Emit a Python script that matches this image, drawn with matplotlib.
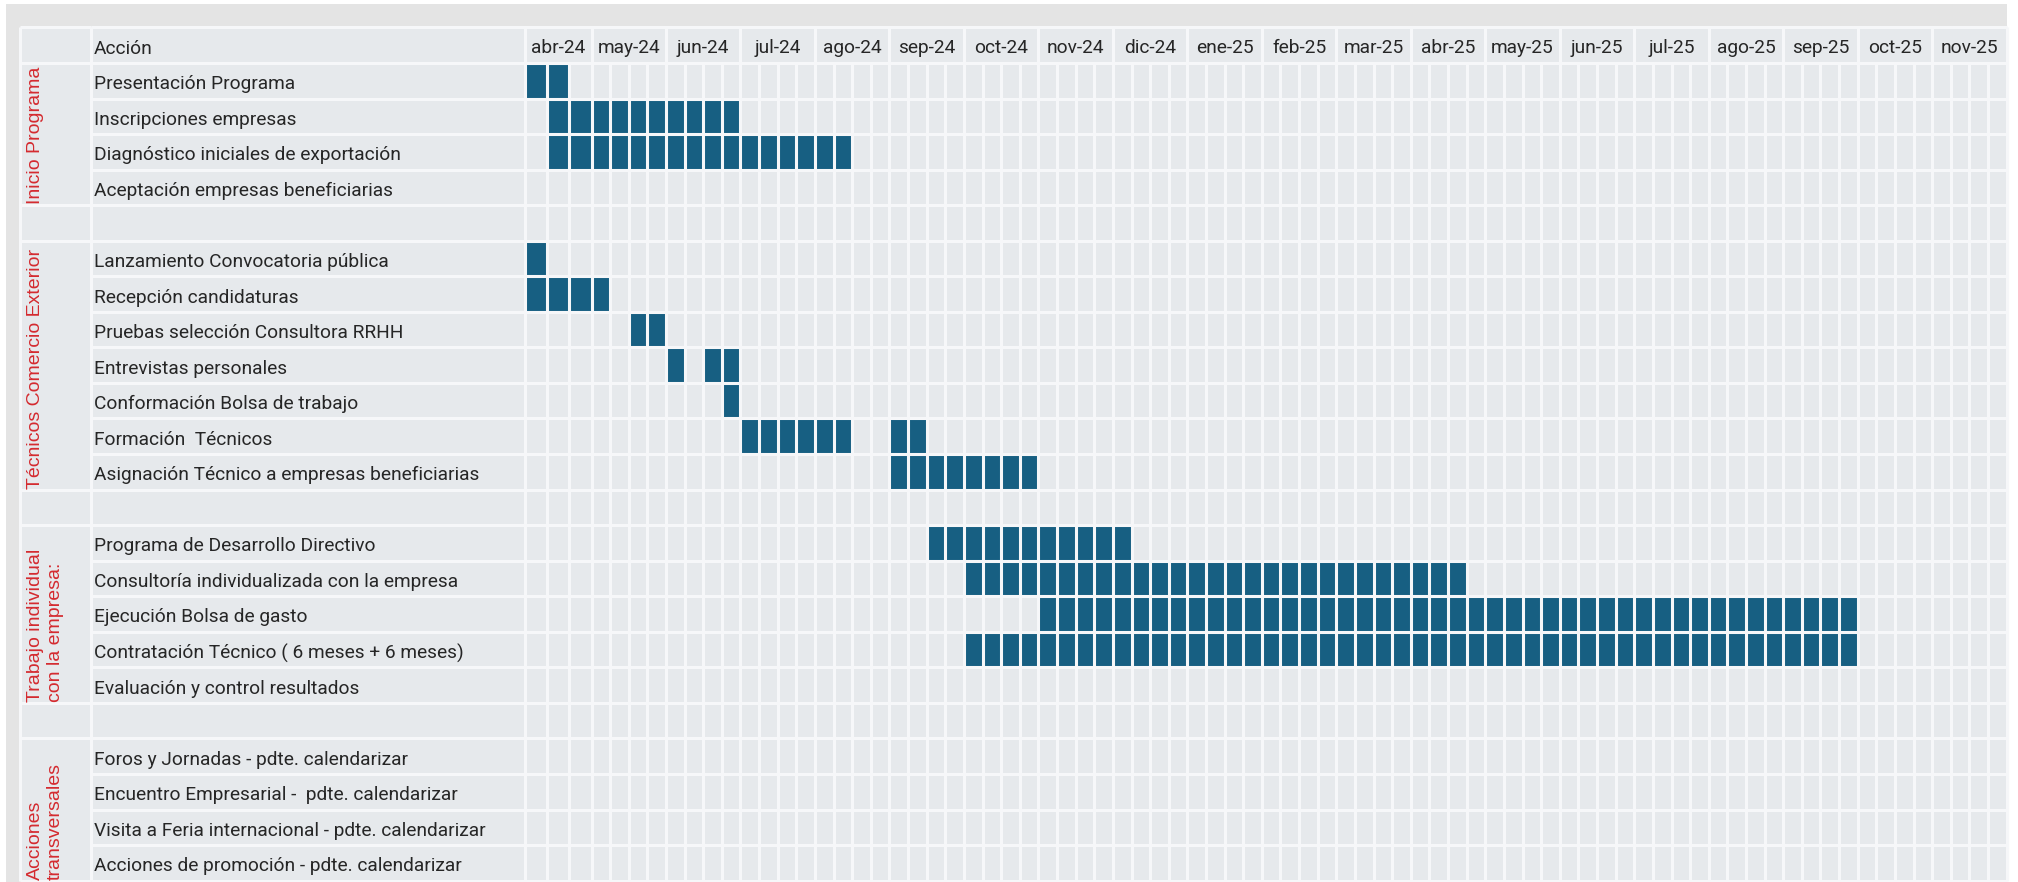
import numpy as np
import matplotlib
matplotlib.use("Agg")
import matplotlib.pyplot as plt
from matplotlib.patches import Rectangle
from matplotlib import transforms

# ---------------- data ----------------
months = ["abr-24", "may-24", "jun-24", "jul-24", "ago-24", "sep-24", "oct-24",
          "nov-24", "dic-24", "ene-25", "feb-25", "mar-25", "abr-25", "may-25",
          "jun-25", "jul-25", "ago-25", "sep-25", "oct-25", "nov-25"]
weeks_per_month = [3] + [4] * 19

groups = ["Inicio Programa",
          "Técnicos Comercio Exterior",
          "Trabajo individual\ncon la empresa:",
          "Acciones\ntransversales"]

actions_inicio = ["Presentación Programa",
                  "Inscripciones empresas",
                  "Diagnóstico iniciales de exportación",
                  "Aceptación empresas beneficiarias"]
actions_tecnicos = ["Lanzamiento Convocatoria pública",
                    "Recepción candidaturas",
                    "Pruebas selección Consultora RRHH",
                    "Entrevistas personales",
                    "Conformación Bolsa de trabajo",
                    "Formación  Técnicos",
                    "Asignación Técnico a empresas beneficiarias"]
actions_trabajo = ["Programa de Desarrollo Directivo",
                   "Consultoría individualizada con la empresa",
                   "Ejecución Bolsa de gasto",
                   "Contratación Técnico ( 6 meses + 6 meses)",
                   "Evaluación y control resultados"]
actions_transv = ["Foros y Jornadas - pdte. calendarizar",
                  "Encuentro Empresarial -  pdte. calendarizar",
                  "Visita a Feria internacional - pdte. calendarizar",
                  "Acciones de promoción - pdte. calendarizar"]
group_actions = [actions_inicio, actions_tecnicos, actions_trabajo, actions_transv]

# active weeks (first week index, last week index), week 0 = first column of abr-24
active_weeks = {
    "Presentación Programa": [(0, 1)],
    "Inscripciones empresas": [(1, 10)],
    "Diagnóstico iniciales de exportación": [(1, 16)],
    "Lanzamiento Convocatoria pública": [(0, 0)],
    "Recepción candidaturas": [(0, 3)],
    "Pruebas selección Consultora RRHH": [(5, 6)],
    "Entrevistas personales": [(7, 7), (9, 10)],
    "Conformación Bolsa de trabajo": [(10, 10)],
    "Formación  Técnicos": [(11, 16), (19, 20)],
    "Asignación Técnico a empresas beneficiarias": [(19, 26)],
    "Programa de Desarrollo Directivo": [(21, 31)],
    "Consultoría individualizada con la empresa": [(23, 49)],
    "Ejecución Bolsa de gasto": [(27, 70)],
    "Contratación Técnico ( 6 meses + 6 meses)": [(23, 70)],
}

# ---------------- style ----------------
W, H = 2018, 882
CELL = "#e6e9ec"
LINE = "#f6f7f9"
STRIP = "#e4e4e4"
BAR = "#175f82"
RED = "#d42a2f"
TXT = "#262626"
LW = 2.2
FS = 13.8
MAIN_FONT = ["Roboto", "DejaVu Sans"]
RED_FONT = ["Liberation Sans", "DejaVu Sans"]

n_weeks = int(sum(weeks_per_month))

# rows: groups separated by blank rows
row_labels = []
group_ranges = []
for gi, acts in enumerate(group_actions):
    if gi > 0:
        row_labels.append("")
    start = len(row_labels)
    row_labels.extend(acts)
    group_ranges.append((start, len(row_labels) - 1))
n_rows = len(row_labels)

# piecewise-linear x scale: group column, action column, week columns
kx = np.array([-1e4, -2, -1, 0, 3, n_weeks, 1e4])
kp_core = np.array([20, 90.5, 524.5, 591.5, 2006.7])
s_left = (kp_core[1] - kp_core[0])
s_right = (kp_core[4] - kp_core[3]) / (n_weeks - 3)
kp = np.concatenate([[kp_core[0] - (1e4 - 2) * s_left], kp_core,
                     [kp_core[4] + (1e4 - n_weeks) * s_right]])


def fwd(x):
    return np.interp(x, kx, kp)


def inv(p):
    return np.interp(p, kp, kx)


fig = plt.figure(figsize=(W / 100, H / 100), dpi=100)
fig.patch.set_facecolor("white")
fig.add_artist(Rectangle((6 / W, 0), (2006.7 - 6) / W, (H - 4) / H,
                         transform=fig.transFigure, facecolor=STRIP,
                         edgecolor="none", zorder=0))

top_px, bot_px = 27.4, 880.6
ax = fig.add_axes([20 / W, (H - bot_px) / H, (2006.7 - 20) / W, (bot_px - top_px) / H])
ax.set_xscale("function", functions=(fwd, inv))
ax.set_xlim(-2, n_weeks)
ax.set_ylim(n_rows - 0.5, -1.5)
ax.set_facecolor(CELL)
ax.set_xticks([])
ax.set_yticks([])
ax.tick_params(which="both", length=0, labelbottom=False, labelleft=False)
for s in ax.spines.values():
    s.set_visible(False)

# bars (one cell per week)
for r, lab in enumerate(row_labels):
    for a, b in active_weeks.get(lab, []):
        ax.broken_barh([(w, 1) for w in range(a, b + 1)], (r - 0.5, 1),
                       facecolors=BAR, edgecolor="none", zorder=2)

# grid lines
bounds = np.arange(-1.5, n_rows, 1.0)
ax.hlines(bounds, -1, n_weeks, colors=LINE, lw=LW, zorder=3, clip_on=False)
gb = [-1.5, -0.5]
for s0, s1 in group_ranges:
    gb += [s0 - 0.5, s1 + 0.5]
ax.hlines(sorted(set(gb)), -2, -1, colors=LINE, lw=LW, zorder=3, clip_on=False)
month_edges = np.concatenate([[0], np.cumsum(weeks_per_month)])
ax.vlines([-2, -1], -1.5, n_rows - 0.5, colors=LINE, lw=LW, zorder=3, clip_on=False)
ax.vlines(month_edges, -1.5, n_rows - 0.5, colors=LINE, lw=LW, zorder=3, clip_on=False)
week_inner = [w for w in range(n_weeks) if w not in set(month_edges)]
ax.vlines(week_inner, -0.5, n_rows - 0.5, colors=LINE, lw=LW, zorder=3, clip_on=False)

# texts
t_off = transforms.offset_copy(ax.transData, fig=fig, x=3.5, y=-3.5, units="dots")
m_off = transforms.offset_copy(ax.transData, fig=fig, x=0, y=-3, units="dots")
ax.text(-1, -1, "Acción", transform=t_off, ha="left", va="center",
        fontsize=FS, color=TXT, family=MAIN_FONT, zorder=4)
for r, lab in enumerate(row_labels):
    if lab:
        ax.text(-1, r, lab, transform=t_off, ha="left", va="center",
                fontsize=FS, color=TXT, family=MAIN_FONT, zorder=4)

centers = (month_edges[:-1] + month_edges[1:]) / 2
for c, m in zip(centers, months):
    ax.text(c, -1, m, transform=m_off, ha="center", va="center", fontsize=FS,
            color=TXT, family=MAIN_FONT, zorder=4)

r_off = transforms.offset_copy(ax.transData, fig=fig, x=6.5, y=1, units="dots")
for g, (s0, s1) in zip(groups, group_ranges):
    ax.text(-2, s1 + 0.5, g, transform=r_off, rotation=90, ha="left", va="bottom",
            fontsize=14, color=RED, family=RED_FONT, linespacing=1.25, zorder=4)

fig.savefig("out.png", dpi=100)
